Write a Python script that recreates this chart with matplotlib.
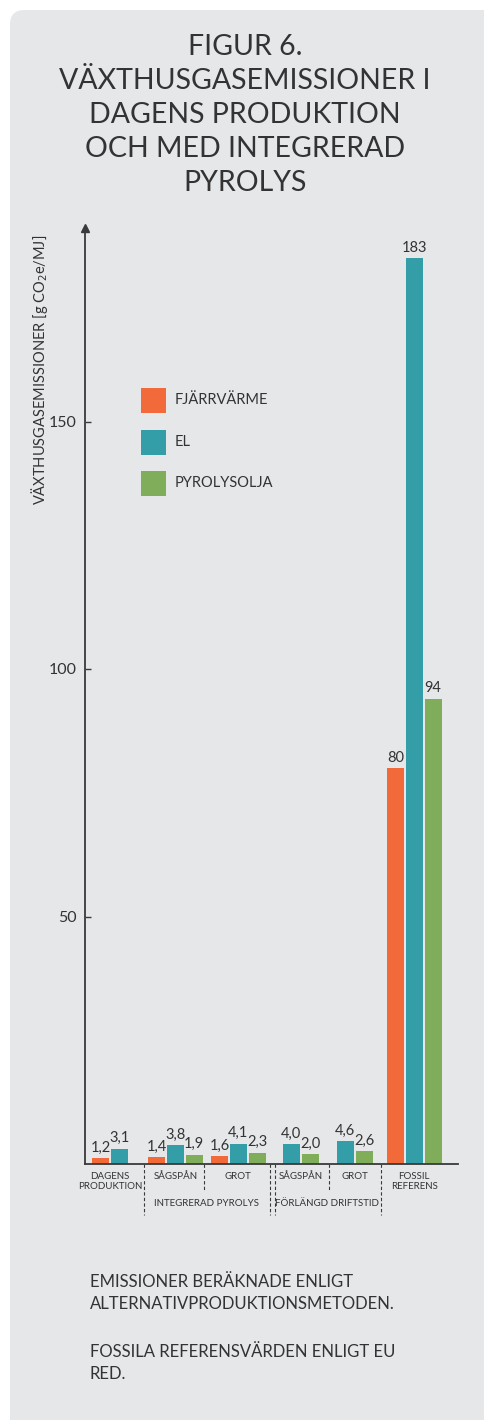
import matplotlib.pyplot as plt
from matplotlib.patches import FancyBboxPatch, Rectangle
from matplotlib.transforms import blended_transform_factory

plt.rcParams['font.family'] = ['Lato', 'DejaVu Sans']

W, H = 485, 1420

# data
categories = ["DAGENS\nPRODUKTION", "SÅGSPÅN", "GROT", "SÅGSPÅN", "GROT", "FOSSIL\nREFERENS"]
series = ["FJÄRRVÄRME", "EL", "PYROLYSOLJA"]
fjarrvarme = [1.2, 1.4, 1.6, None, None, 80]
el = [3.1, 3.8, 4.1, 4.0, 4.6, 183]
pyrolysolja = [None, 1.9, 2.3, 2.0, 2.6, 94]
group_names = ["INTEGRERAD PYROLYS", "FÖRLÄNGD DRIFTSTID"]
yticks = [50, 100, 150]

colors = ["#F26A3A", "#339DA8", "#80AD5A"]
text_col = "#333333"
axis_col = "#3a3a3a"

# layout (pixel units along the x axis)
group_left = [7, 63, 126, 179, 233, 302]
step, bar_w = 18.8, 17
long_seps = [59, 185, 190, 296]
short_seps = [119, 244]
group_label_x = [122, 242]


def fx(x):
    return x / W


def fy(y):
    return 1 - y / H


fig = plt.figure(figsize=(W / 100, H / 100), dpi=100)
fig.patch.set_facecolor("white")

panel = FancyBboxPatch((fx(10), fy(1440)), fx(520), 1430 / H,
                       boxstyle="round,pad=0,rounding_size=0.03",
                       transform=fig.transFigure, facecolor="#E6E7E9",
                       edgecolor="none", zorder=-5,
                       mutation_aspect=W / H)
fig.patches.append(panel)

fig.text(fx(245), fy(115),
         "FIGUR 6.\nVÄXTHUSGASEMISSIONER I\nDAGENS PRODUKTION\nOCH MED INTEGRERAD\nPYROLYS",
         ha="center", va="center", fontsize=20.5, color=text_col,
         linespacing=1.37)

ax_left, ax_right, ax_top, ax_bot = 85, 458, 228, 1164
ax = fig.add_axes([fx(ax_left), fy(ax_bot), fx(ax_right - ax_left), (ax_bot - ax_top) / H])
ax.set_facecolor("none")
ax.set_xlim(0, ax_right - ax_left)
ax.set_ylim(0, (ax_bot - ax_top) / 4.95)

for s, vals in enumerate([fjarrvarme, el, pyrolysolja]):
    for g, v in enumerate(vals):
        if v is None:
            continue
        x = group_left[g] + s * step + bar_w / 2
        ax.bar(x, v, width=bar_w, color=colors[s], zorder=2)
        lab = f"{v:.1f}".replace(".", ",") if v < 10 else f"{v:.0f}"
        ax.annotate(lab, (x, v), xytext=(0, 2.5), textcoords="offset points",
                    ha="center", va="bottom", fontsize=10.5, color=text_col)

for side in ["top", "right"]:
    ax.spines[side].set_visible(False)
for side in ["left", "bottom"]:
    ax.spines[side].set_color(axis_col)
    ax.spines[side].set_linewidth(1.3)
ax.plot([0], [1], marker="^", markersize=6, color=axis_col,
        transform=ax.transAxes, clip_on=False)

ax.set_xticks([])
ax.set_yticks(yticks)
ax.tick_params(axis="y", direction="in", length=4, width=1, color=axis_col,
               labelsize=11.5, labelcolor=text_col, pad=6)

fig.text(fx(40), fy(370), "VÄXTHUSGASEMISSIONER [g CO$_2$e/MJ]", rotation=90,
         ha="center", va="center", fontsize=10.5, color=text_col)

# category labels and dashed separators under the axis
trans = blended_transform_factory(ax.transData, ax.transAxes)
axh = ax_bot - ax_top
for g, name in enumerate(categories):
    present = [s for s, vals in enumerate([fjarrvarme, el, pyrolysolja]) if vals[g] is not None]
    x0 = group_left[g] + present[0] * step
    x1 = group_left[g] + present[-1] * step + bar_w
    ax.text((x0 + x1) / 2, -8 / axh, name, transform=trans, ha="center", va="top",
            fontsize=7, color=text_col, linespacing=1.1)
for x, name in zip(group_label_x, group_names):
    ax.text(x, -39 / axh, name, transform=trans, ha="center", va="center",
            fontsize=7, color=text_col)
for x in long_seps:
    ax.plot([x, x], [0, -51 / axh], transform=trans, clip_on=False,
            color=axis_col, lw=0.8, ls=(0, (3, 2)))
for x in short_seps:
    ax.plot([x, x], [0, -26 / axh], transform=trans, clip_on=False,
            color=axis_col, lw=0.8, ls=(0, (3, 2)))

# legend
for i, (name, c) in enumerate(zip(series, colors)):
    top = 388 + i * 41.5
    fig.patches.append(Rectangle((fx(141), fy(top + 25)), fx(25), 25 / H,
                                 transform=fig.transFigure, facecolor=c,
                                 edgecolor="none"))
    fig.text(fx(175), fy(top + 12.5), name, ha="left", va="center",
             fontsize=10.5, color=text_col)

fig.text(fx(90), fy(1293),
         "EMISSIONER BERÄKNADE ENLIGT\nALTERNATIVPRODUKTIONSMETODEN.",
         ha="left", va="center", fontsize=12, color=text_col, linespacing=1.45)
fig.text(fx(90), fy(1363),
         "FOSSILA REFERENSVÄRDEN ENLIGT EU\nRED.",
         ha="left", va="center", fontsize=12, color=text_col, linespacing=1.45)

fig.savefig("out.png", dpi=100)
